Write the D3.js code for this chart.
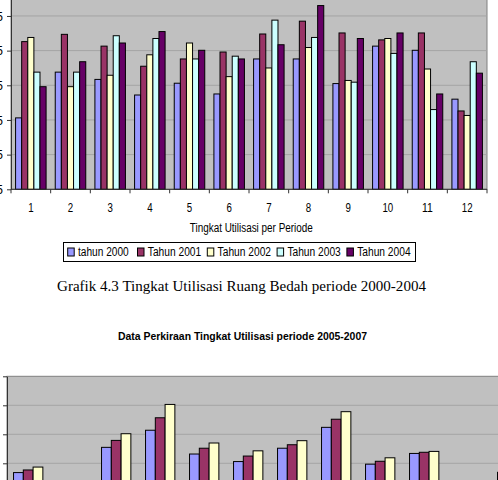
<!DOCTYPE html>
<html>
<head>
<meta charset="utf-8">
<script src="https://cdn.jsdelivr.net/npm/d3@7"></script>
<style>
  body { margin: 0; background: #fff; }
  svg { display: block; }
  .axis text { font-family: "Liberation Sans", Arial, sans-serif; font-size: 12px; fill: #000; }
  .axis path, .axis line { stroke: #333; }
</style>
</head>
<body>
<div id="chart"></div>
<script>
// ---------- data: chart 1 (2000-2004) ----------
var periods = ["1", "2", "3", "4", "5", "6", "7", "8", "9", "10", "11", "12"];
var years = ["tahun 2000", "Tahun 2001", "Tahun 2002", "Tahun 2003", "Tahun 2004"];
var v2000 = [35.6, 48.8, 46.7, 42.2, 45.6, 42.5, 52.6, 52.6, 45.5, 56.3, 55.1, 41.0];
var v2001 = [57.6, 59.7, 56.3, 50.5, 52.6, 54.6, 59.8, 63.5, 60.1, 58.1, 60.1, 37.6];
var v2002 = [58.8, 44.6, 47.9, 53.8, 57.2, 47.5, 50.0, 55.9, 46.4, 58.5, 49.7, 36.3];
var v2003 = [48.8, 48.8, 59.3, 58.5, 52.6, 53.4, 63.8, 58.8, 45.9, 54.2, 38.0, 51.8];
var v2004 = [44.6, 51.8, 57.2, 60.5, 55.1, 52.6, 56.7, 68.0, 58.5, 60.1, 42.5, 48.5];
var yTicks1 = [15, 25, 35, 45, 55, 65, 75];

// ---------- data: chart 2 (2005-2007, cut off) ----------
var years2 = ["2005", "2006", "2007"];
var v2005 = [26.8, 22, 35.5, 41.4, 33.2, 30.6, 35.2, 42.4, 29.7, 33.4, 22, 26.9];
var v2006 = [27.7, 22, 37.9, 45.7, 35.2, 32.5, 36.4, 45.2, 30.7, 33.8, 22, 27.6];
var v2007 = [28.7, 22, 40.2, 50.3, 37.0, 34.3, 37.8, 47.8, 31.9, 34.1, 22, 28.4];
var yTicks2 = [0, 10, 20, 30, 40, 50, 60];

var colors = ["#9999FF", "#993366", "#FFFFCC", "#CCFFFF", "#660066"];

var svg = d3.select("#chart").append("svg")
  .attr("width", 498)
  .attr("height", 480);

//===============================
//  chart 1
//===============================
var series1 = [v2000, v2001, v2002, v2003, v2004];

var x0 = d3.scaleBand().domain(periods).range([11, 487]);
var x1 = d3.scaleBand().domain(d3.range(years.length))
  .range([0, x0.bandwidth()]).paddingOuter(0.75);
var y1 = d3.scaleLinear().domain([15, 75]).range([189.3, -18.7]);

svg.append("rect")
  .attr("x", 11).attr("y", y1(75))
  .attr("width", 476).attr("height", y1(15) - y1(75))
  .attr("fill", "#C0C0C0")
  .attr("stroke", "#808080");

svg.append("g").selectAll("line")
  .data(yTicks1.slice(1))
  .enter().append("line")
  .attr("x1", 11).attr("x2", 487)
  .attr("y1", d => y1(d)).attr("y2", d => y1(d))
  .attr("stroke", "#A4A4A4");

var groups1 = svg.append("g").selectAll("g")
  .data(periods)
  .enter().append("g")
  .attr("transform", d => `translate(${x0(d)},0)`);

groups1.selectAll("rect")
  .data((p, i) => series1.map((s, k) => ({ k: k, v: s[i] })))
  .enter().append("rect")
  .attr("x", d => x1(d.k))
  .attr("width", x1.bandwidth())
  .attr("y", d => y1(d.v))
  .attr("height", d => y1(15) - y1(d.v))
  .attr("fill", d => colors[d.k])
  .attr("stroke", "#000")
  .attr("stroke-width", 1);

svg.append("g")
  .attr("class", "axis")
  .attr("transform", "translate(11,0)")
  .call(d3.axisLeft(y1).tickValues(yTicks1).tickSize(4).tickSizeOuter(0).tickPadding(4))
  .call(g => g.selectAll("text").attr("dy", "0.35em"));

// x axis: ticks at category boundaries
var xAxis1 = svg.append("g")
  .attr("class", "axis")
  .attr("transform", `translate(0,${y1(15)})`);
xAxis1.append("line").attr("x1", 11).attr("x2", 487).attr("stroke", "#333");
xAxis1.selectAll(".tk")
  .data(periods.concat(["end"]))
  .enter().append("line")
  .attr("x1", (d, i) => 11 + i * x0.step())
  .attr("x2", (d, i) => 11 + i * x0.step())
  .attr("y1", 0).attr("y2", 4)
  .attr("stroke", "#333");
xAxis1.selectAll("text")
  .data(periods)
  .enter().append("text")
  .attr("x", d => x0(d) + x0.bandwidth() / 2)
  .attr("y", 22.4)
  .attr("text-anchor", "middle")
  .attr("textLength", d => d.length * 5.4)
  .attr("lengthAdjust", "spacingAndGlyphs")
  .text(d => d);

svg.append("text")
  .attr("x", 251.3).attr("y", 231.7)
  .attr("text-anchor", "middle")
  .attr("font-family", "Liberation Sans, Arial, sans-serif")
  .attr("font-size", 12)
  .attr("textLength", 123)
  .attr("lengthAdjust", "spacingAndGlyphs")
  .text("Tingkat Utilisasi per Periode");

// legend
var legend = svg.append("g");
legend.append("rect")
  .attr("x", 63.5).attr("y", 242.5)
  .attr("width", 352).attr("height", 19)
  .attr("fill", "#fff").attr("stroke", "#000");
var item = legend.selectAll(".item")
  .data(years)
  .enter().append("g")
  .attr("transform", (d, i) => `translate(${67.7 + i * 69.8},0)`);
item.append("rect")
  .attr("x", 0).attr("y", 248)
  .attr("width", 6.5).attr("height", 8)
  .attr("fill", (d, i) => colors[i])
  .attr("stroke", "#000");
item.append("text")
  .attr("x", 10.3).attr("y", 256.3)
  .attr("font-family", "Liberation Sans, Arial, sans-serif")
  .attr("font-size", 12)
  .attr("textLength", (d, i) => i === 0 ? 50.7 : 53.4)
  .attr("lengthAdjust", "spacingAndGlyphs")
  .text(d => d);

// caption
svg.append("text")
  .attr("x", 241.5).attr("y", 291)
  .attr("text-anchor", "middle")
  .attr("font-family", "Liberation Serif, Times New Roman, serif")
  .attr("font-size", 15)
  .attr("textLength", 369)
  .attr("lengthAdjust", "spacingAndGlyphs")
  .text("Grafik 4.3 Tingkat Utilisasi Ruang Bedah periode 2000-2004");

//===============================
//  chart 2 (only the top part is visible)
//===============================
svg.append("text")
  .attr("x", 242.5).attr("y", 339.5)
  .attr("text-anchor", "middle")
  .attr("font-family", "Liberation Sans, Arial, sans-serif")
  .attr("font-weight", "bold")
  .attr("font-size", 11.5)
  .attr("textLength", 249)
  .attr("lengthAdjust", "spacingAndGlyphs")
  .text("Data Perkiraan Tingkat Utilisasi periode 2005-2007");

var series2 = [v2005, v2006, v2007];
var x0b = d3.scaleBand().domain(periods).range([7, 535]);
var x1b = d3.scaleBand().domain(d3.range(years2.length))
  .range([0, x0b.bandwidth()]).paddingOuter(0.75);
var y2 = d3.scaleLinear().domain([0, 60]).range([550.3, 376.3]);

svg.append("rect")
  .attr("x", 7).attr("y", y2(60))
  .attr("width", 528).attr("height", y2(0) - y2(60))
  .attr("fill", "#C0C0C0")
  .attr("stroke", "#808080");

svg.append("g").selectAll("line")
  .data(yTicks2.slice(1, -1))
  .enter().append("line")
  .attr("x1", 7).attr("x2", 535)
  .attr("y1", d => y2(d)).attr("y2", d => y2(d))
  .attr("stroke", "#A4A4A4");

var groups2 = svg.append("g").selectAll("g")
  .data(periods)
  .enter().append("g")
  .attr("transform", d => `translate(${x0b(d) - 0.8},0)`);

groups2.selectAll("rect")
  .data((p, i) => series2.map((s, k) => ({ k: k, v: s[i] })))
  .enter().append("rect")
  .attr("x", d => x1b(d.k))
  .attr("width", x1b.bandwidth())
  .attr("y", d => y2(d.v))
  .attr("height", d => y2(0) - y2(d.v))
  .attr("fill", d => colors[d.k])
  .attr("stroke", "#000")
  .attr("stroke-width", 1);

svg.append("g")
  .attr("class", "axis")
  .attr("transform", "translate(7,0)")
  .call(d3.axisLeft(y2).tickValues(yTicks2).tickSize(4).tickSizeOuter(0).tickPadding(4));
</script>
</body>
</html>
